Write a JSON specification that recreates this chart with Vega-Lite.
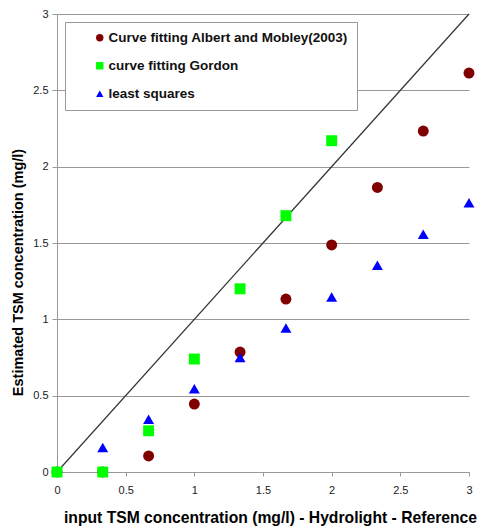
{
  "$schema": "https://vega.github.io/schema/vega-lite/v6.json",
  "width": 412,
  "height": 458,
  "autosize": "none",
  "padding": {"left": 57, "top": 14, "right": 18, "bottom": 59},
  "background": "white",
  "config": {
    "font": "Liberation Sans",
    "view": {"stroke": null},
    "axis": {"labelFont": "Liberation Sans", "titleFont": "Liberation Sans"}
  },
  "datasets": {
    "points": [
      {"x": 0, "y": 0, "method": "Curve fitting Albert and Mobley(2003)"},
      {"x": 0.333, "y": 0, "method": "Curve fitting Albert and Mobley(2003)"},
      {"x": 0.667, "y": 0.105, "method": "Curve fitting Albert and Mobley(2003)"},
      {"x": 1, "y": 0.445, "method": "Curve fitting Albert and Mobley(2003)"},
      {"x": 1.333, "y": 0.786, "method": "Curve fitting Albert and Mobley(2003)"},
      {"x": 1.667, "y": 1.133, "method": "Curve fitting Albert and Mobley(2003)"},
      {"x": 2, "y": 1.487, "method": "Curve fitting Albert and Mobley(2003)"},
      {"x": 2.333, "y": 1.864, "method": "Curve fitting Albert and Mobley(2003)"},
      {"x": 2.667, "y": 2.233, "method": "Curve fitting Albert and Mobley(2003)"},
      {"x": 3, "y": 2.613, "method": "Curve fitting Albert and Mobley(2003)"},
      {"x": 0, "y": 0, "method": "curve fitting Gordon"},
      {"x": 0.333, "y": 0, "method": "curve fitting Gordon"},
      {"x": 0.667, "y": 0.27, "method": "curve fitting Gordon"},
      {"x": 1, "y": 0.74, "method": "curve fitting Gordon"},
      {"x": 1.333, "y": 1.2, "method": "curve fitting Gordon"},
      {"x": 1.667, "y": 1.679, "method": "curve fitting Gordon"},
      {"x": 2, "y": 2.17, "method": "curve fitting Gordon"},
      {"x": 0.333, "y": 0.16, "method": "least squares"},
      {"x": 0.667, "y": 0.345, "method": "least squares"},
      {"x": 1, "y": 0.545, "method": "least squares"},
      {"x": 1.333, "y": 0.75, "method": "least squares"},
      {"x": 1.667, "y": 0.944, "method": "least squares"},
      {"x": 2, "y": 1.146, "method": "least squares"},
      {"x": 2.333, "y": 1.355, "method": "least squares"},
      {"x": 2.667, "y": 1.558, "method": "least squares"},
      {"x": 3, "y": 1.764, "method": "least squares"}
    ],
    "diag": [{"x": 0, "y": 0}, {"x": 3, "y": 3}]
  },
  "layer": [
    {
      "data": {"name": "diag"},
      "mark": {"type": "line", "color": "#333333", "strokeWidth": 1.2},
      "encoding": {
        "x": {
          "field": "x", "type": "quantitative",
          "scale": {"domain": [0, 3], "nice": false, "zero": false},
          "axis": {
            "values": [0, 0.5, 1, 1.5, 2, 2.5, 3],
            "format": "~g",
            "grid": false,
            "domainColor": "#999999",
            "tickColor": "#999999",
            "tickSize": 4,
            "labelFontSize": 11,
            "labelColor": "#222222",
            "labelPadding": 8,
            "labelFlush": false,
            "title": "input TSM concentration (mg/l) - Hydrolight - Reference",
            "titleFontSize": 15.7,
            "titleFontWeight": "bold",
            "titleColor": "#000000",
            "titlePadding": 15,
            "titleX": 213
          }
        },
        "y": {
          "field": "y", "type": "quantitative",
          "scale": {"domain": [0, 3], "nice": false, "zero": false},
          "axis": {
            "values": [0, 0.5, 1, 1.5, 2, 2.5, 3],
            "format": "~g",
            "grid": true,
            "gridColor": "#999999",
            "gridWidth": 1,
            "domainColor": "#999999",
            "tickColor": "#999999",
            "tickSize": 5,
            "labelFontSize": 11,
            "labelColor": "#222222",
            "labelPadding": 4,
            "labelFlush": false,
            "title": "Estimated TSM concentration (mg/l)",
            "titleFontSize": 14.5,
            "titleFontWeight": "bold",
            "titleColor": "#000000",
            "titlePadding": 7,
            "titleY": 258
          }
        }
      }
    },
    {
      "data": {"name": "points"},
      "mark": {"type": "point", "filled": true, "opacity": 1},
      "encoding": {
        "x": {"field": "x", "type": "quantitative"},
        "y": {"field": "y", "type": "quantitative"},
        "order": {"field": "method", "type": "nominal"},
        "color": {
          "field": "method", "type": "nominal",
          "scale": {
            "domain": ["Curve fitting Albert and Mobley(2003)", "curve fitting Gordon", "least squares"],
            "range": ["#800000", "#00ff00", "#0000ff"]
          },
          "legend": {
            "title": null,
            "orient": "none",
            "legendX": 8,
            "legendY": 8,
            "strokeColor": "#999999",
            "fillColor": "white",
            "padding": 9,
            "symbolOffset": 19,
            "symbolSize": 55,
            "labelFontSize": 13.5,
            "labelFontWeight": "bold",
            "labelColor": "#111111",
            "labelOffset": 2,
            "labelLimit": 400,
            "rowPadding": 13
          }
        },
        "shape": {
          "field": "method", "type": "nominal",
          "scale": {
            "domain": ["Curve fitting Albert and Mobley(2003)", "curve fitting Gordon", "least squares"],
            "range": ["circle", "square", "triangle-up"]
          },
          "legend": null
        },
        "size": {"value": 120}
      }
    }
  ]
}
